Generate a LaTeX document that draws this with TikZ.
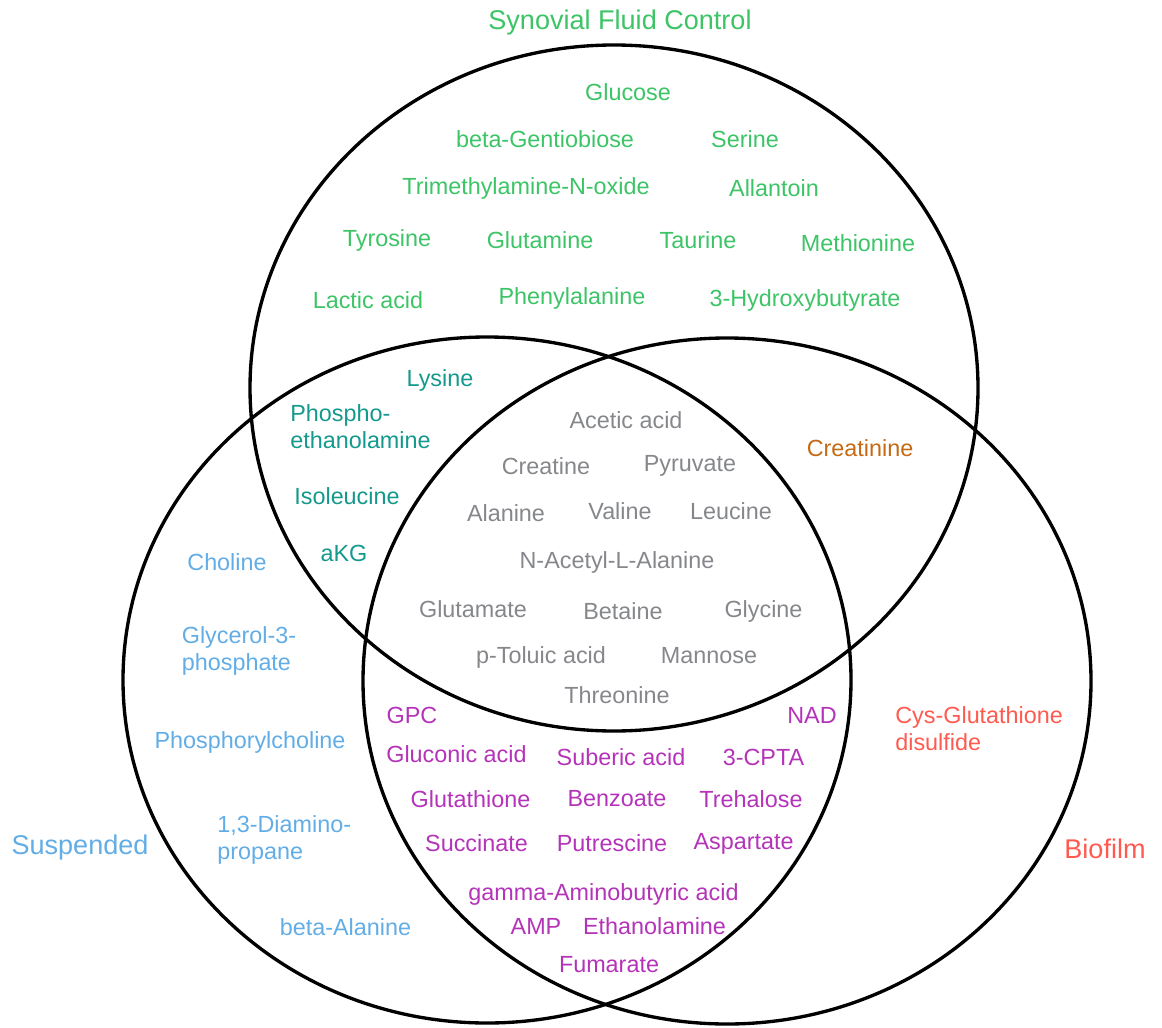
\documentclass[tikz,border=0pt]{standalone}
\usepackage{fontspec}
\setmainfont{Liberation Sans}
\usepackage{xcolor}
\usepackage{tikz}
\definecolor{sfc}{HTML}{3CC466}
\definecolor{teal}{HTML}{14998C}
\definecolor{core}{HTML}{85878B}
\definecolor{crea}{HTML}{C46A14}
\definecolor{susp}{HTML}{62ADE6}
\definecolor{mix}{HTML}{B433B8}
\definecolor{bio}{HTML}{FF5A4F}
\tikzset{
  ring/.style={draw=black, line width=1.9pt},
  lab/.style={font=\fontsize{13.3}{15.4}\selectfont, inner sep=0pt},
  head/.style={font=\fontsize{15.4}{18}\selectfont, inner sep=0pt},
  two/.style={lab, anchor=west, align=left},
  ctl/.style={lab, text=sfc},
  tl/.style={lab, text=teal},
  gr/.style={lab, text=core},
  sp/.style={lab, text=susp},
  mx/.style={lab, text=mix},
}

\begin{document}
\begin{tikzpicture}[x=0.02cm, y=-0.02cm]
  \useasboundingbox (0,0) rectangle (1162,1027);
  \draw[ring] (614,388) ellipse [x radius=364, y radius=343];
  \draw[ring] (487,680) ellipse [x radius=364, y radius=343];
  \draw[ring] (727,681) ellipse [x radius=364, y radius=343];

  \node[head, text=sfc] (tSFC) at (620,23) {Synovial Fluid Control};
  \node[head, text=susp] (tSus) at (80,847) {Suspended};
  \node[head, text=bio] (tBio) at (1105,849) {Biofilm};

  \node[ctl] (glc) at (628,92) {Glucose};
  \node[ctl] (gen) at (545,139.5) {beta-Gentiobiose};
  \node[ctl] (ser) at (745,139.5) {Serine};
  \node[ctl] (tmao) at (526,188) {Trimethylamine-N-oxide};
  \node[ctl] (all) at (774,188) {Allantoin};
  \node[ctl] (tyr) at (387,240) {Tyrosine};
  \node[ctl] (gln) at (540,240) {Glutamine};
  \node[ctl] (tau) at (698,240) {Taurine};
  \node[ctl] (met) at (858,243) {Methionine};
  \node[ctl] (lac) at (368,300.5) {Lactic acid};
  \node[ctl] (phe) at (572,298) {Phenylalanine};
  \node[ctl] (hb) at (805,300.5) {3-Hydroxybutyrate};

  \node[tl] (lys) at (440,380) {Lysine};
  \node[two, text=teal] (pe) at (290,426.5) {Phospho-\\ethanolamine};
  \node[tl] (ile) at (347,496) {Isoleucine};
  \node[tl] (akg) at (344,553) {aKG};

  \node[gr] (ace) at (626,420) {Acetic acid};
  \node[gr] (cre) at (546,466) {Creatine};
  \node[gr] (pyr) at (690,466) {Pyruvate};
  \node[gr] (ala) at (506,513) {Alanine};
  \node[gr] (val) at (620,511) {Valine};
  \node[gr] (leu) at (731,511) {Leucine};
  \node[gr] (naa) at (617,562.5) {N-Acetyl-L-Alanine};
  \node[gr] (glu) at (473,609) {Glutamate};
  \node[gr] (bet) at (623,611.5) {Betaine};
  \node[gr] (gly) at (763.5,611.5) {Glycine};
  \node[gr] (tol) at (541,657.5) {p-Toluic acid};
  \node[gr] (man) at (709,655.5) {Mannose};
  \node[gr] (thr) at (617,695) {Threonine};

  \node[lab, text=crea] (crn) at (860,448.5) {Creatinine};

  \node[sp] (cho) at (227,562) {Choline};
  \node[two, text=susp] (g3p) at (181.5,651) {Glycerol-3-\\phosphate};
  \node[sp] (pch) at (250,742) {Phosphorylcholine};
  \node[two, text=susp] (dap) at (217,839.5) {1,3-Diamino-\\propane};
  \node[sp] (bal) at (345.5,927) {beta-Alanine};

  \node[mx] (gpc) at (412,715) {GPC};
  \node[mx] (nad) at (812,715) {NAD};
  \node[mx] (glcn) at (456.5,754) {Gluconic acid};
  \node[mx] (sub) at (621,757) {Suberic acid};
  \node[mx] (cpta) at (763.5,757) {3-CPTA};
  \node[mx] (gsh) at (470.5,799) {Glutathione};
  \node[mx] (bzo) at (617,799) {Benzoate};
  \node[mx] (tre) at (751,799) {Trehalose};
  \node[mx] (suc) at (476.5,843.5) {Succinate};
  \node[mx] (put) at (612,843.5) {Putrescine};
  \node[mx] (asp) at (743.5,843.5) {Aspartate};
  \node[mx] (gaba) at (603.5,894) {gamma-Aminobutyric acid};
  \node[mx] (amp) at (536,926.5) {AMP};
  \node[mx] (etn) at (654.5,926.5) {Ethanolamine};
  \node[mx] (fum) at (609,964.5) {Fumarate};

  \node[two, text=bio] (cysg) at (895,729) {Cys-Glutathione\\disulfide};
\end{tikzpicture}
\end{document}
